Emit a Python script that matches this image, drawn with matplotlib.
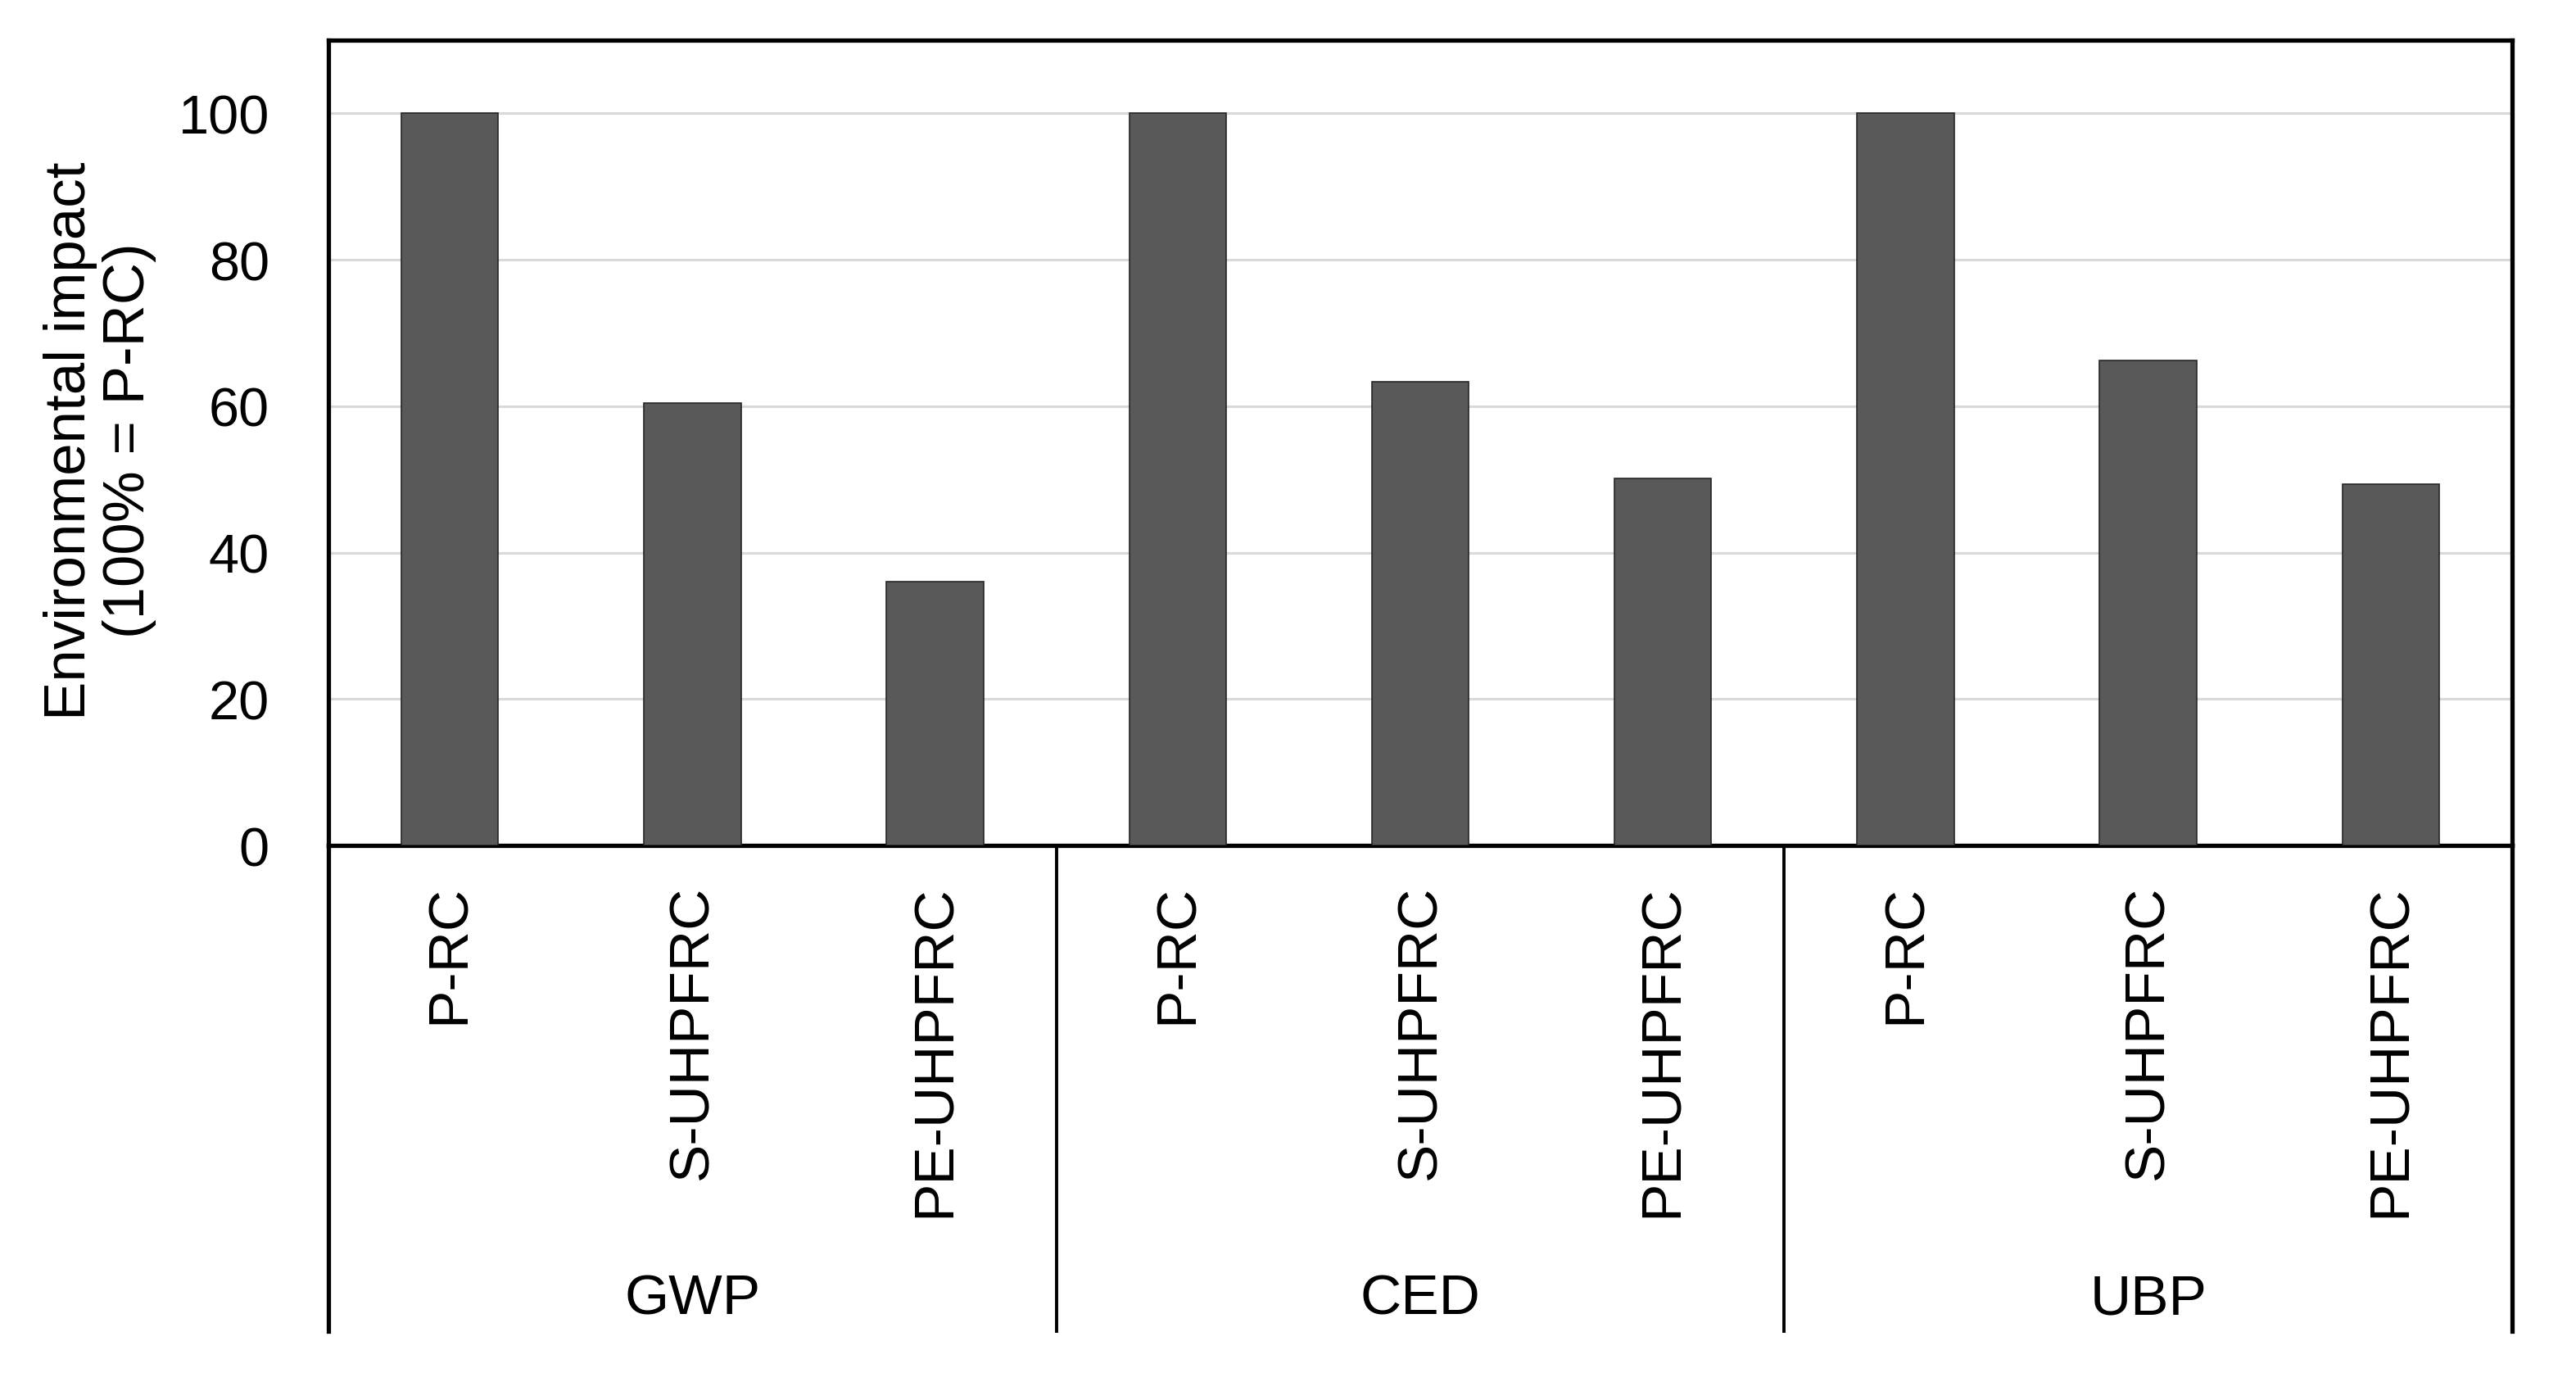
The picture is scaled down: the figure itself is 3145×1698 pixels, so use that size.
import numpy as np
import matplotlib.pyplot as plt

groups = ["GWP", "CED", "UBP"]
materials = ["P-RC", "S-UHPFRC", "PE-UHPFRC"]
gwp = [100, 60.4, 36.0]
ced = [100, 63.3, 50.1]
ubp = [100, 66.3, 49.3]

plt.rcParams['font.family'] = ['Liberation Sans', 'DejaVu Sans']

values = gwp + ced + ubp
labels = materials * len(groups)
x = np.arange(len(values))

fig = plt.figure(figsize=(31.45, 16.99), dpi=100)
ax = fig.add_axes([401/3145, (1699-1033)/1699, (3067-401)/3145, (1033-50)/1699])

ax.bar(x, values, width=0.4, color='#595959', edgecolor='#262626', linewidth=1.2, zorder=3)

ax.set_xlim(-0.5, len(values) - 0.5)
ax.set_ylim(0, 110)
ax.set_yticks([0, 20, 40, 60, 80, 100])
ax.yaxis.grid(True, color='#d9d9d9', linewidth=2.2, zorder=0)
ax.tick_params(axis='y', length=0, pad=52, labelsize=48)

ax.set_xticks(x)
ax.set_xticklabels(labels, rotation=90, fontsize=50)
ax.tick_params(axis='x', length=0, pad=34)

for s in ax.spines.values():
    s.set_linewidth(3.8)
    s.set_color('black')

# group separators below axis
bottom = -(1626-1033)/(1033-50)
for xs in [0, 1/3, 2/3, 1]:
    ax.plot([xs, xs], [0, bottom], transform=ax.transAxes, color='black',
            linewidth=3.8 if xs in (0, 1) else 2.8, clip_on=False)
for i, g in enumerate(groups):
    ax.text((i + 0.5)/3, -(1587-1033)/983, g, transform=ax.transAxes,
            ha='center', va='center', fontsize=50)

fig.text(122/3145, 1 - 538/1699, "Environmental impact\n(100% = P-RC)", rotation=90,
         ha='center', va='center', multialignment='center', fontsize=51, linespacing=1.1)

fig.savefig('out.png', dpi=100, facecolor='white')
